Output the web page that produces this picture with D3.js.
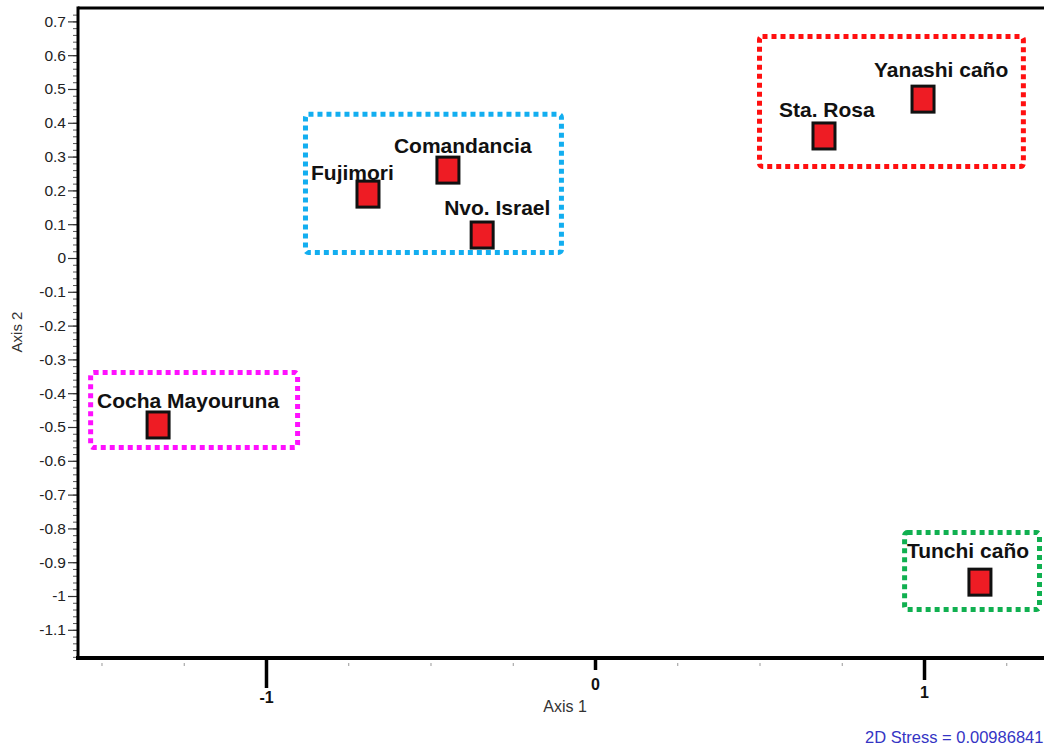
<!DOCTYPE html>
<html>
<head>
<meta charset="utf-8">
<script src="https://cdn.jsdelivr.net/npm/d3@7"></script>
<style>
  body { margin: 0; background: #fff; }
  svg { display: block; font-family: Arial, "Liberation Sans", sans-serif; }
</style>
</head>
<body>
<svg id="nmds" width="1044" height="749"></svg>
<script>
(function() {
    // site names and their NMDS scores
    var sites  = ["Fujimori", "Comandancia", "Nvo. Israel", "Sta. Rosa", "Yanashi caño", "Cocha Mayouruna", "Tunchi caño"];
    var axis1  = [-0.69, -0.447, -0.343, 0.696, 0.997, -1.328, 1.17];
    var axis2  = [0.189, 0.26, 0.068, 0.361, 0.47, -0.494, -0.959];

    // where each label sits relative to its square (px)
    var labelDx = [-57, -54, -38, -45, -49, -61, -73];
    var labelDy = [-14, -17, -20, -19, -22, -17, -24];

    // dotted group boxes, in axis units
    var groupColor = ["#12aef0", "#ff1010", "#ff10ff", "#10b050"];
    var groupX0 = [-0.88, 0.5, -1.533, 0.941];
    var groupX1 = [-0.102, 1.302, -0.904, 1.351];
    var groupY0 = [0.016, 0.271, -0.561, -1.04];
    var groupY1 = [0.425, 0.655, -0.339, -0.812];

    var yTicks = d3.range(-11, 8).map(d => d / 10);
    var xTicks = [-1, 0, 1];
    // the original integer ticks have uneven lengths, labels follow them
    var xTickLen = [30, 12, 22];
    var xLabelTop = [34, 21, 29];
    var stress = "2D Stress = 0.00986841";

    var left = 78, right = 1044, top = 8, bottom = 658;

    var x = d3.scaleLinear().domain([-1.5714, 1.3647]).range([left, right]);
    var y = d3.scaleLinear().domain([-1.1834, 0.7396]).range([bottom, top]);

    var svg = d3.select("#nmds");

    // top frame line
    svg.append("line")
        .attr("x1", left).attr("x2", right)
        .attr("y1", top).attr("y2", top)
        .attr("stroke", "#000").attr("stroke-width", 3);

    // y axis: minor ticks then major ticks with labels
    var yMinor = d3.range(-59, 37).map(d => d / 50);
    svg.append("g")
        .attr("transform", `translate(${left},0)`)
        .call(d3.axisLeft(y).tickValues(yMinor).tickSize(5).tickFormat(""))
        .call(g => g.select(".domain").remove())
        .call(g => g.selectAll(".tick line").attr("stroke", "#555").attr("stroke-width", 1));

    svg.append("g")
        .attr("transform", `translate(${left},0)`)
        .call(d3.axisLeft(y).tickValues(yTicks).tickSize(10).tickPadding(2)
            .tickFormat(d => String(+d.toFixed(1))))
        .call(g => g.select(".domain").remove())
        .call(g => g.selectAll(".tick line").attr("stroke", "#333").attr("stroke-width", 1.2))
        .call(g => g.selectAll(".tick text")
            .attr("font-size", 15.5).attr("fill", "#222")
            .attr("font-family", "Arial, 'Liberation Sans', sans-serif"));

    svg.append("line")
        .attr("x1", left).attr("x2", left)
        .attr("y1", top - 1.5).attr("y2", bottom + 1.5)
        .attr("stroke", "#000").attr("stroke-width", 3);

    // x axis: faint quarter ticks, heavy integer ticks
    var xMinor = d3.range(-6, 6).map(d => d / 4).filter(d => !Number.isInteger(d));
    svg.append("g")
        .attr("transform", `translate(0,${bottom})`)
        .call(d3.axisBottom(x).tickValues(xMinor).tickSize(8).tickFormat(""))
        .call(g => g.select(".domain").remove())
        .call(g => g.selectAll(".tick line").attr("stroke", "#999").attr("stroke-width", 1)
            .attr("y1", 5));

    svg.append("g")
        .attr("transform", `translate(0,${bottom})`)
        .call(d3.axisBottom(x).tickValues(xTicks).tickSize(30).tickPadding(6)
            .tickFormat(d => String(d)))
        .call(g => g.select(".domain").remove())
        .call(g => g.selectAll(".tick line").attr("stroke", "#000").attr("stroke-width", 3.5)
            .attr("y2", (d, i) => xTickLen[i]))
        .call(g => g.selectAll(".tick text")
            .attr("font-size", 16).attr("font-weight", "bold").attr("fill", "#111")
            .attr("font-family", "Arial, 'Liberation Sans', sans-serif")
            .attr("y", (d, i) => xLabelTop[i]));

    svg.append("line")
        .attr("x1", left - 2).attr("x2", right)
        .attr("y1", bottom).attr("y2", bottom)
        .attr("stroke", "#000").attr("stroke-width", 4);

    // axis titles
    svg.append("text")
        .attr("x", 565).attr("y", 712)
        .attr("text-anchor", "middle")
        .attr("font-size", 16).attr("fill", "#333")
        .text("Axis 1");

    svg.append("text")
        .attr("transform", "translate(22,332) rotate(-90)")
        .attr("text-anchor", "middle")
        .attr("font-size", 15).attr("fill", "#333")
        .text("Axis 2");

    svg.append("text")
        .attr("x", 865).attr("y", 743)
        .attr("font-size", 16.5).attr("fill", "#3434c4")
        .text(stress);

    // group boxes
    svg.append("g")
        .selectAll("rect")
        .data(groupColor)
        .join("rect")
        .attr("x", (d, i) => x(groupX0[i]))
        .attr("y", (d, i) => y(groupY1[i]))
        .attr("width", (d, i) => x(groupX1[i]) - x(groupX0[i]))
        .attr("height", (d, i) => y(groupY0[i]) - y(groupY1[i]))
        .attr("rx", 3)
        .attr("fill", "none")
        .attr("stroke", d => d)
        .attr("stroke-width", 5)
        .attr("stroke-dasharray", "5,4");

    // site markers
    var pts = svg.append("g")
        .selectAll("g")
        .data(sites)
        .join("g")
        .attr("transform", (d, i) => `translate(${x(axis1[i])},${y(axis2[i])})`);

    pts.append("rect")
        .attr("x", -11).attr("y", -13)
        .attr("width", 22).attr("height", 26)
        .attr("fill", "#ee1c24")
        .attr("stroke", "#111")
        .attr("stroke-width", 3);

    pts.append("text")
        .attr("x", (d, i) => labelDx[i])
        .attr("y", (d, i) => labelDy[i])
        .attr("font-size", 21)
        .attr("font-weight", "bold")
        .attr("fill", "#111")
        .text(d => d);
})();
</script>
</body>
</html>
